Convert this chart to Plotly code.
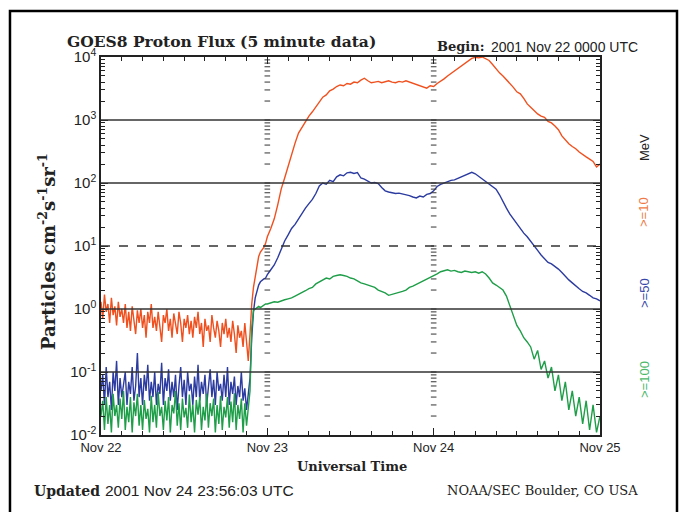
import plotly.graph_objects as go

# ---------------- data ----------------
# time grid: hours since 2001 Nov 22 00:00 UTC
hours = [i * 0.25 for i in range(97)] + [24.5 + i * 0.5 for i in range(96)]

day_ticks = [0, 24, 48, 72]
day_labels = ["Nov 22", "Nov 23", "Nov 24", "Nov 25"]

# >=10 MeV proton flux (pfu)
flux_10 = [
    1.3, 0.7, 1.7, 0.9, 1.2, 0.6, 1.5, 0.8, 1.1, 0.55,
    1.3, 0.75, 1.0, 0.6, 1.2, 0.5, 0.9, 0.45, 1.1, 0.7,
    0.4, 0.95, 0.6, 1.0, 0.5, 0.8, 0.35, 0.9, 0.6, 1.2,
    0.5, 0.75, 0.45, 0.9, 0.55, 0.3, 0.8, 0.6, 1.0, 0.45,
    0.7, 0.35, 0.85, 0.55, 0.4, 0.9, 0.6, 0.3, 0.7, 0.5,
    0.8, 0.4, 0.65, 0.35, 0.75, 0.5, 0.9, 0.4, 0.6, 0.25,
    0.7, 0.45, 0.55, 0.3, 0.8, 0.5, 0.35, 0.65, 0.45, 0.25,
    0.6, 0.4, 0.7, 0.35, 0.5, 0.3, 0.65, 0.4, 0.2, 0.55,
    0.35, 0.45, 0.25, 0.6, 0.3, 0.15, 0.4,
    1.2, 2.2, 3.3, 4.8, 6.8, 8.0, 8.8, 9.5, 11, 14,
    19, 27, 45, 80, 120, 190, 300, 430, 620, 760,
    950, 1150, 1350, 1600, 1900, 2300, 2500, 2900, 3100, 3400, 3600,
    3500, 3800, 3700, 4000, 3900, 4300, 4600, 4200, 3900, 4000,
    4100, 3900, 4000, 4200, 4000, 3900, 4100, 4000, 4200, 4000,
    3900, 3700, 3500, 3300, 3200, 3500, 3400, 3800, 4100, 4500,
    5000, 5500, 6000, 6500, 7200, 8000, 8800, 9500, 9900, 9700,
    10000, 9400, 8800, 7600, 6400, 5600, 5000, 4400, 3800, 3300,
    2800, 2600, 2200, 1800, 1600, 1400, 1250, 1150, 1100, 950,
    900, 800, 700, 560, 480, 420, 380, 350, 310, 280,
    260, 240, 220, 180, 200,
]

# >=50 MeV proton flux (pfu)
flux_50 = [
    0.05, 0.09, 0.03, 0.12, 0.04, 0.07, 0.025, 0.1, 0.05, 0.15,
    0.03, 0.08, 0.04, 0.06, 0.1, 0.03, 0.07, 0.045, 0.12, 0.035,
    0.06, 0.2, 0.04, 0.08, 0.03, 0.09, 0.05, 0.13, 0.035, 0.07,
    0.04, 0.1, 0.03, 0.065, 0.045, 0.14, 0.03, 0.08, 0.05, 0.11,
    0.035, 0.07, 0.04, 0.09, 0.025, 0.06, 0.12, 0.04, 0.075, 0.03,
    0.1, 0.05, 0.065, 0.03, 0.085, 0.04, 0.13, 0.035, 0.07, 0.045,
    0.09, 0.03, 0.06, 0.11, 0.04, 0.075, 0.03, 0.1, 0.05, 0.065,
    0.035, 0.09, 0.04, 0.12, 0.03, 0.07, 0.045, 0.085, 0.03, 0.06,
    0.04, 0.1, 0.035, 0.055, 0.025, 0.045, 0.08,
    0.35, 0.9, 1.5, 2.0, 2.4, 2.7, 2.9, 3.0, 3.1, 3.5,
    4.2, 5.0, 6.5, 9.0, 12, 15, 19, 22, 27, 33,
    40, 47, 55, 68, 90, 100, 96, 110, 105, 125, 135,
    130, 145, 148, 142, 146, 120, 115, 108, 100, 102,
    98, 85, 75, 72, 70, 68, 69, 67, 66, 63,
    60, 58, 62, 60, 66, 68, 75, 88, 95, 100,
    105, 110, 112, 118, 125, 130, 140, 148, 140, 128,
    115, 105, 98, 90, 80, 65, 50, 40, 32, 27,
    22, 19, 16, 14, 12, 10, 8.5, 7.2, 6.2, 5.5,
    5.2, 4.8, 4.3, 3.8, 3.3, 2.9, 2.6, 2.3, 2.1, 1.9,
    1.8, 1.65, 1.5, 1.45, 1.35,
]

# >=100 MeV proton flux (pfu)
flux_100 = [
    0.02, 0.035, 0.012, 0.04, 0.015, 0.03, 0.011, 0.045, 0.02, 0.03,
    0.013, 0.038, 0.018, 0.05, 0.012, 0.028, 0.016, 0.04, 0.011, 0.033,
    0.02, 0.045, 0.014, 0.03, 0.012, 0.036, 0.018, 0.026, 0.011, 0.042,
    0.016, 0.03, 0.013, 0.048, 0.02, 0.028, 0.012, 0.035, 0.017, 0.04,
    0.011, 0.03, 0.022, 0.05, 0.014, 0.032, 0.012, 0.038, 0.019, 0.027,
    0.013, 0.044, 0.016, 0.03, 0.011, 0.036, 0.021, 0.04, 0.012, 0.028,
    0.017, 0.045, 0.013, 0.032, 0.02, 0.038, 0.011, 0.03, 0.015, 0.042,
    0.012, 0.028, 0.019, 0.04, 0.013, 0.034, 0.016, 0.046, 0.012, 0.03,
    0.018, 0.038, 0.011, 0.032, 0.014, 0.025, 0.05,
    0.5, 0.95, 1.0, 1.05, 1.1, 1.05, 1.1, 1.15, 1.2, 1.2,
    1.25, 1.3, 1.28, 1.35, 1.4, 1.45, 1.5, 1.6, 1.7, 1.8,
    1.95, 2.1, 2.2, 2.5, 2.7, 2.9, 3.1, 3.0, 3.3, 3.4, 3.5,
    3.4, 3.3, 3.1, 3.0, 2.8, 2.6, 2.5, 2.4, 2.3, 2.2,
    2.0, 1.9, 1.8, 1.65, 1.7, 1.75, 1.85, 1.9, 2.0, 2.2,
    2.3, 2.45, 2.6, 2.8, 2.9, 3.1, 3.3, 3.6, 3.9, 4.1,
    4.2, 4.0, 4.1, 3.9, 3.8, 4.0, 3.9, 3.8, 3.9, 3.7,
    3.9, 3.6, 3.1, 2.6, 2.4, 2.2, 2.0, 1.6, 1.1, 0.75,
    0.55, 0.45, 0.35, 0.3, 0.25, 0.16, 0.22, 0.11, 0.15, 0.08,
    0.12, 0.05, 0.09, 0.035, 0.07, 0.025, 0.05, 0.02, 0.04, 0.015,
    0.035, 0.012, 0.03, 0.011, 0.02,
]

decades = [0.01, 0.1, 1, 10, 100, 1000, 10000]
decade_labels = ["10<sup>-2</sup>", "10<sup>-1</sup>", "10<sup>0</sup>", "10<sup>1</sup>",
                 "10<sup>2</sup>", "10<sup>3</sup>", "10<sup>4</sup>"]
solid_grid = [0.1, 1, 100, 1000]
dashed_grid = [10]
minor_y = [m * d for d in decades[:-1] for m in range(2, 10)]
minor_x = list(range(0, 73, 3))
day_boundaries = [24, 48]

series_names = [">=10", ">=50", ">=100"]
series_colors = ["#F0501E", "#2B3BA0", "#1E9E48"]
label_colors = ["#F07A45", "#3848A8", "#4CB86A"]

# ---------------- figure ----------------
fig = go.Figure()

for name, ys, col in zip(series_names, [flux_10, flux_50, flux_100], series_colors):
    fig.add_trace(go.Scatter(x=hours, y=ys, mode="lines", name=name,
                             line=dict(color=col, width=1.4), hoverinfo="skip"))

# dotted log-tick markers along the day boundaries
bx, by = [], []
for d in day_boundaries:
    for v in minor_y + decades[1:-1]:
        bx.append(d)
        by.append(v)
fig.add_trace(go.Scatter(x=bx, y=by, mode="markers", hoverinfo="skip",
                         marker=dict(symbol="line-ew", size=4,
                                     line=dict(color="#333", width=1))))

shapes = []
for v in solid_grid:
    shapes.append(dict(type="line", xref="paper", x0=0, x1=1, yref="y", y0=v, y1=v,
                       line=dict(color="#333", width=1.5), layer="above"))
for v in dashed_grid:
    shapes.append(dict(type="line", xref="paper", x0=0, x1=1, yref="y", y0=v, y1=v,
                       line=dict(color="#333", width=1.5, dash="dash"), layer="above"))
# outer frame
shapes.append(dict(type="rect", xref="paper", yref="paper",
                   x0=-0.1824, x1=1.1543, y0=-0.26, y1=1.1217,
                   line=dict(color="black", width=2.5)))

serif = "DejaVu Serif"
sans = "Liberation Sans"

def px_x(p):
    return (p - 101) / 499

def px_y(p):
    return (435 - p) / 378

annotations = [
    dict(text="<b>GOES8 Proton Flux (5 minute data)</b>", x=px_x(65), y=px_y(42),
         xanchor="left", yanchor="middle", font=dict(family=serif, size=15.5, color="#222")),
    dict(text="<b>Begin:</b>", x=px_x(435), y=px_y(47), xanchor="left", yanchor="middle",
         font=dict(family=serif, size=13, color="#222")),
    dict(text="2001 Nov 22 0000 UTC", x=px_x(640), y=px_y(47), xanchor="right", yanchor="middle",
         font=dict(family=sans, size=14, color="#222")),
    dict(text="<b>Particles cm<sup>-2</sup>s<sup>-1</sup>sr<sup>-1</sup></b>", x=px_x(47),
         y=px_y(252), textangle=-90, xanchor="center", yanchor="middle",
         font=dict(family=serif, size=18, color="#222")),
    dict(text="<b>Universal Time</b>", x=px_x(352), y=px_y(466), xanchor="center",
         yanchor="middle", font=dict(family=serif, size=13, color="#222")),
    dict(text="<b>Updated</b>", x=px_x(32), y=px_y(491), xanchor="left", yanchor="middle",
         font=dict(family=serif, size=14, color="#222")),
    dict(text="2001 Nov 24 23:56:03 UTC", x=px_x(103), y=px_y(490), xanchor="left",
         yanchor="middle", font=dict(family=sans, size=15.5, color="#222")),
    dict(text="NOAA/SEC Boulder, CO USA", x=px_x(640), y=px_y(490), xanchor="right",
         yanchor="middle", font=dict(family=serif, size=13, color="#222")),
    dict(text="MeV", x=px_x(644), y=px_y(148), textangle=-90, xanchor="center",
         yanchor="middle", font=dict(family=sans, size=13, color="#222")),
]
label_y = [212, 293, 380]
for name, col, py in zip(series_names, label_colors, label_y):
    annotations.append(dict(text=name, x=px_x(644), y=px_y(py), textangle=-90,
                            xanchor="center", yanchor="middle",
                            font=dict(family=sans, size=13, color=col)))
for a in annotations:
    a.update(xref="paper", yref="paper", showarrow=False)

# the page body adds an 8px margin, so the figure is 8px smaller and margins compensate
fig.update_layout(
    width=679, height=504, autosize=False,
    margin=dict(l=93, r=87, t=49, b=77),
    paper_bgcolor="white", plot_bgcolor="white",
    showlegend=False,
    shapes=shapes, annotations=annotations,
    xaxis=dict(range=[0, 72], tickmode="array", tickvals=day_ticks, ticktext=day_labels,
               ticks="inside", ticklen=7, tickwidth=1, tickcolor="#222",
               showline=True, linecolor="#222", linewidth=1.5, mirror="allticks",
               showgrid=False, zeroline=False,
               tickfont=dict(family=sans, size=13, color="#222"),
               minor=dict(tickmode="array", tickvals=minor_x, ticks="inside",
                          ticklen=4, tickcolor="#222", showgrid=False)),
    yaxis=dict(type="log", range=[-2, 4], tickmode="array", tickvals=decades,
               ticktext=decade_labels,
               ticks="inside", ticklen=7, tickwidth=1, tickcolor="#222",
               showline=True, linecolor="#222", linewidth=1.5, mirror="allticks",
               showgrid=False, zeroline=False,
               tickfont=dict(family=sans, size=15, color="#222"),
               minor=dict(tickmode="array", tickvals=minor_y, ticks="inside",
                          ticklen=4, tickcolor="#222", showgrid=False)),
)

fig.write_html("out.html")
